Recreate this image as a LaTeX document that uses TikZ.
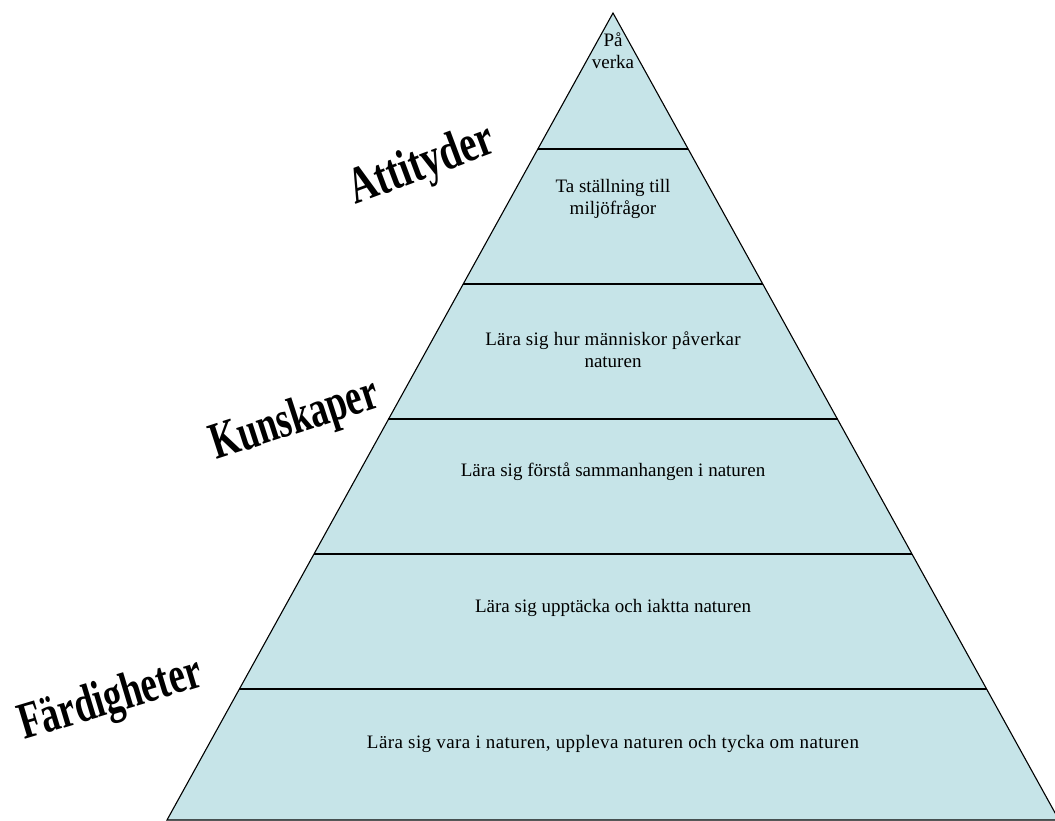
\documentclass[tikz,border=0pt]{standalone}
\usepackage{fontspec}
\setmainfont{Liberation Serif}
\usetikzlibrary{positioning}

\definecolor{pyrblue}{RGB}{198,228,232}

\begin{document}
\begin{tikzpicture}[x=1pt, y=-1pt,
  tier/.style={line width=1.1pt},
  steptext/.style={align=center, font=\fontsize{19}{22}\selectfont},
  sidelabel/.style={anchor=base west, inner sep=0pt, font=\fontsize{52}{52}\selectfont\bfseries}]

  \useasboundingbox (0,0) rectangle (1055,820);

  % the pyramid
  \draw[tier, fill=pyrblue] (613,13) -- (167,820) -- (1059,820) -- cycle;
  \foreach \y in {149,284,419,554,689}
    \draw[tier] ({613-(\y-13)*0.553},\y) -- ({613+(\y-13)*0.553},\y);

  \node[steptext] (top) at (613,51) {På\\verka};
  \node[steptext] (stand) at (613,199) {Ta ställning till\\miljöfrågor};
  \node[steptext] (impact) at (613,349.5) {\addfontfeature{LetterSpace=1.5}Lära sig hur människor påverkar\\naturen};
  \node[steptext] (links) at (613,472) {Lära sig förstå sammanhangen i naturen};
  \node[steptext] (discover) at (613,608) {Lära sig upptäcka och iaktta naturen};
  \node[steptext] (be) at (613,744) {\addfontfeature{LetterSpace=2.2}Lära sig vara i naturen, uppleva naturen och tycka om naturen};

  % labels on the left
  \node[sidelabel, rotate=20.5] (attitudes) at (355,205) {\scalebox{0.74}[1]{Attityder}};
  \node[sidelabel, rotate=18] (knowledge) at (216,460) {\scalebox{0.7}[1]{Kunskaper}};
  \node[sidelabel, rotate=16.8] (skills) at (24,740) {\scalebox{0.71}[1]{Färdigheter}};
\end{tikzpicture}
\end{document}
